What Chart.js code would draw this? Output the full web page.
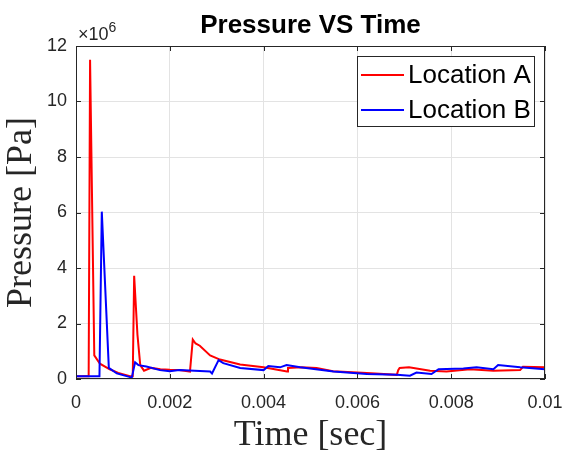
<!DOCTYPE html>
<html>
<head>
<meta charset="utf-8">
<script src="https://cdn.jsdelivr.net/npm/chart.js@4/dist/chart.umd.min.js"></script>
<style>
  html, body { margin: 0; padding: 0; background: #ffffff; }
  #wrap { width: 563px; height: 453px; position: relative; }
</style>
</head>
<body>
<div id="wrap"><canvas id="c" width="563" height="453"></canvas></div>
<script>
// ---- Data (pressure in units of 1e6 Pa, time in seconds) ----
const timeA = [0, 0.00027, 0.0003, 0.00039, 0.00051, 0.00072, 0.0009, 0.00115, 0.00121, 0.00124, 0.00131, 0.00137, 0.00145, 0.0016, 0.0018, 0.002, 0.0022, 0.00243, 0.00249, 0.00255, 0.00264, 0.00286, 0.00307, 0.0035, 0.004, 0.0045, 0.00452, 0.0048, 0.00513, 0.00548, 0.0062, 0.00684, 0.00687, 0.0069, 0.0071, 0.00755, 0.0079, 0.0084, 0.0089, 0.00947, 0.00953, 0.01];
const pressureA = [0.1, 0.1, 11.5, 0.85, 0.55, 0.35, 0.22, 0.1, 0.1, 3.72, 1.6, 0.5, 0.3, 0.4, 0.35, 0.33, 0.32, 0.27, 1.42, 1.28, 1.2, 0.85, 0.7, 0.52, 0.42, 0.27, 0.4, 0.42, 0.4, 0.28, 0.22, 0.15, 0.32, 0.4, 0.42, 0.3, 0.27, 0.35, 0.3, 0.32, 0.44, 0.42];
const timeB = [0, 0.0005, 0.00055, 0.0007, 0.00087, 0.00119, 0.00126, 0.00133, 0.0015, 0.00179, 0.002, 0.0022, 0.00286, 0.0029, 0.00304, 0.00314, 0.0035, 0.004, 0.0041, 0.00435, 0.00449, 0.00478, 0.00549, 0.0062, 0.00684, 0.00712, 0.00726, 0.00758, 0.00773, 0.00826, 0.00854, 0.0089, 0.009, 0.00947, 0.01];
const pressureB = [0.1, 0.1, 6.03, 0.4, 0.2, 0.05, 0.6, 0.5, 0.45, 0.32, 0.28, 0.32, 0.27, 0.2, 0.68, 0.57, 0.4, 0.32, 0.47, 0.42, 0.5, 0.42, 0.27, 0.18, 0.15, 0.12, 0.23, 0.18, 0.35, 0.38, 0.42, 0.35, 0.5, 0.42, 0.35];
const seriesNames = ['Location A', 'Location B'];
const xTickLabels = ['0', '0.002', '0.004', '0.006', '0.008', '0.01'];
const yTickLabels = ['0', '2', '4', '6', '8', '10', '12'];
const chartTitle = 'Pressure VS Time';
const xTitle = 'Time [sec]';
const yTitle = 'Pressure [Pa]';

const toPts = (xs, ys) => xs.map((x, i) => ({ x: x, y: ys[i] }));

const AX = '#262626';
const SANS = '"Liberation Sans", Arial, Helvetica, sans-serif';
const SERIF = '"Liberation Serif", "Times New Roman", serif';

const decor = {
  id: 'decor',
  afterDraw(chart) {
    const ctx = chart.ctx;
    const a = chart.chartArea;
    const xs = chart.scales.x, ys = chart.scales.y;
    ctx.save();
    // box
    ctx.strokeStyle = AX;
    ctx.lineWidth = 1;
    ctx.strokeRect(a.left + 0.5, a.top + 0.5, a.right - a.left - 1, a.bottom - a.top - 1);
    // inward ticks
    ctx.beginPath();
    xs.ticks.forEach(t => {
      const px = Math.round(xs.getPixelForValue(t.value)) + 0.5;
      ctx.moveTo(px, a.bottom); ctx.lineTo(px, a.bottom - 5);
      ctx.moveTo(px, a.top); ctx.lineTo(px, a.top + 5);
    });
    ys.ticks.forEach(t => {
      const py = Math.round(ys.getPixelForValue(t.value)) + 0.5;
      ctx.moveTo(a.left, py); ctx.lineTo(a.left + 5, py);
      ctx.moveTo(a.right, py); ctx.lineTo(a.right - 5, py);
    });
    ctx.stroke();

    // title
    ctx.fillStyle = '#000';
    ctx.font = 'bold 26px ' + SANS;
    ctx.textAlign = 'center';
    ctx.textBaseline = 'alphabetic';
    ctx.fillText(chartTitle, (a.left + a.right) / 2, 33);

    // exponent label
    ctx.fillStyle = AX;
    ctx.textAlign = 'left';
    ctx.textBaseline = 'alphabetic';
    ctx.font = '18px ' + SANS;
    ctx.fillText('\u00d710', a.left + 2, a.top - 6);
    const w = ctx.measureText('\u00d710').width;
    ctx.font = '14px ' + SANS;
    ctx.fillText('6', a.left + 2 + w, a.top - 14);

    // axis titles
    ctx.fillStyle = '#262626';
    ctx.font = '36px ' + SERIF;
    ctx.textAlign = 'center';
    ctx.textBaseline = 'middle';
    ctx.fillText(xTitle, (a.left + a.right) / 2, 436);
    ctx.save();
    ctx.translate(22, (a.top + a.bottom) / 2);
    ctx.rotate(-Math.PI / 2);
    ctx.fillText(yTitle, 0, 0);
    ctx.restore();

    // legend
    const lx = 357, ly = 56, lw = 177, lh = 70;
    ctx.fillStyle = '#fff';
    ctx.fillRect(lx, ly, lw, lh);
    ctx.strokeStyle = '#262626';
    ctx.lineWidth = 1;
    ctx.strokeRect(lx + 0.5, ly + 0.5, lw, lh);
    const rows = [75, 110];
    chart.data.datasets.forEach((ds, i) => {
      ctx.strokeStyle = ds.borderColor;
      ctx.lineWidth = 2;
      ctx.beginPath();
      ctx.moveTo(361, rows[i]); ctx.lineTo(404, rows[i]);
      ctx.stroke();
      ctx.fillStyle = '#000';
      ctx.font = '26px ' + SANS;
      ctx.textAlign = 'left';
      ctx.textBaseline = 'middle';
      ctx.fillText(ds.label, 408, rows[i] + 1);
    });
    ctx.restore();
  }
};

new Chart(document.getElementById('c'), {
  type: 'line',
  data: {
    datasets: [
      { label: seriesNames[0], data: toPts(timeA, pressureA), borderColor: '#ff0000', borderWidth: 2, pointRadius: 0, tension: 0, fill: false, order: 1 },
      { label: seriesNames[1], data: toPts(timeB, pressureB), borderColor: '#0000ff', borderWidth: 2, pointRadius: 0, tension: 0, fill: false, order: 0 }
    ]
  },
  options: {
    responsive: false,
    animation: false,
    devicePixelRatio: 1,
    layout: { padding: { top: 46, right: 18, left: 0, bottom: 0 } },
    plugins: { legend: { display: false }, title: { display: false }, tooltip: { enabled: false } },
    scales: {
      x: {
        type: 'linear', min: 0, max: 0.01,
        afterFit: s => { s.height = 74; s.paddingLeft = 0; s.paddingRight = 0; },
        afterBuildTicks: s => { s.ticks = xTickLabels.map(v => ({ value: parseFloat(v) })); },
        ticks: { callback: (v, i) => xTickLabels[i], font: { family: SANS, size: 18 }, color: AX, padding: 13, maxRotation: 0 },
        grid: { color: '#e3e3e3', drawTicks: false },
        border: { display: false }
      },
      y: {
        type: 'linear', min: 0, max: 12,
        afterFit: s => { s.width = 76; s.paddingTop = 0; s.paddingBottom = 0; },
        afterBuildTicks: s => { s.ticks = yTickLabels.map(v => ({ value: parseFloat(v) })); },
        ticks: { callback: (v, i) => yTickLabels[i], font: { family: SANS, size: 18 }, color: AX, padding: 9 },
        grid: { color: '#e3e3e3', drawTicks: false },
        border: { display: false }
      }
    }
  },
  plugins: [decor]
});
</script>
</body>
</html>
